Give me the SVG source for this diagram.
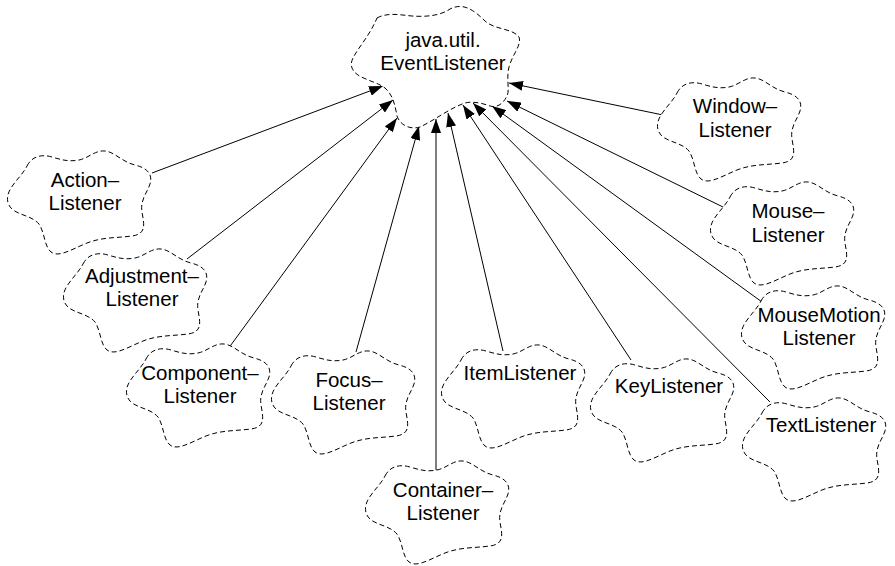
<svg xmlns="http://www.w3.org/2000/svg" width="895" height="566" viewBox="0 0 895 566">
<style>
.cloud{fill:#fff;stroke:#000;stroke-width:1;stroke-dasharray:5,3}
.lbl{font-family:"Liberation Sans",Arial,sans-serif;font-size:20.5px;fill:#000;text-anchor:middle}
.edge{stroke:#000;stroke-width:1;fill:none;marker-end:url(#arr)}
</style>
<defs>
<marker id="arr" viewBox="0 0 14 10" refX="14" refY="5" markerWidth="14" markerHeight="10" orient="auto" markerUnits="userSpaceOnUse"><path d="M0,0 L14,5 L0,10 Z" fill="#000"/></marker>
<path id="cloud" class="cloud" d="M 20,18 C 25,8 35,6 45,9 C 55,12 62,14 72,12 C 82,10 88,2 98,3 C 108,4 115,14 128,17 C 140,20 146,26 143,36 C 140,45 133,52 135,64 C 137,76 140,86 125,88 C 110,90 95,89 80,95 C 65,101 52,110 44,104 C 37,98 38,85 32,76 C 25,68 15,68 6,62 C -1,56 -1,48 4,40 C 9,32 16,26 20,18 Z"/>
</defs>
<rect width="895" height="566" fill="#fff"/>
<g id="connectors">
<line class="edge" x1="152" y1="173" x2="383" y2="86"/>
<line class="edge" x1="187" y1="259" x2="393" y2="100"/>
<line class="edge" x1="228" y1="349" x2="397" y2="118"/>
<line class="edge" x1="356" y1="352" x2="419" y2="126"/>
<line class="edge" x1="436" y1="470" x2="436" y2="119"/>
<line class="edge" x1="503" y1="351" x2="448" y2="113"/>
<line class="edge" x1="631" y1="360" x2="463" y2="105"/>
<line class="edge" x1="770" y1="402" x2="473" y2="103"/>
<line class="edge" x1="762" y1="302" x2="492" y2="106"/>
<line class="edge" x1="725" y1="208" x2="507" y2="101"/>
<line class="edge" x1="663" y1="115" x2="509" y2="83"/>
</g>
<g id="eventlistener">
<path class="cloud" d="M 377,18 C 388,12 400,15 412,16 C 425,17 440,16 450,9 C 462,3 472,8 485,21 C 495,30 512,28 519,37 C 522,45 512,55 509,67 C 506,78 510,90 507,96 C 503,104 497,108 490,106 C 482,103 472,101 465,103 C 450,108 435,120 420,127 C 410,130 400,125 397,116 C 395,105 393,95 385,88 C 378,83 372,82 366,79 C 355,75 348,68 353,58 C 358,48 370,35 377,18 Z"/>
<text class="lbl" x="443" y="47">java.util.</text>
<text class="lbl" x="443" y="70">EventListener</text>
</g>
<g id="action">
<use href="#cloud" transform="translate(7,148)"/>
<text class="lbl" x="85" y="187">Action–</text>
<text class="lbl" x="85" y="210">Listener</text>
</g>
<g id="adjustment">
<use href="#cloud" transform="translate(63,246)"/>
<text class="lbl" x="142" y="283">Adjustment–</text>
<text class="lbl" x="142" y="306">Listener</text>
</g>
<g id="component">
<use href="#cloud" transform="translate(126,341)"/>
<text class="lbl" x="200" y="380">Component–</text>
<text class="lbl" x="200" y="403">Listener</text>
</g>
<g id="focus">
<use href="#cloud" transform="translate(271,348)"/>
<text class="lbl" x="349" y="387">Focus–</text>
<text class="lbl" x="349" y="410">Listener</text>
</g>
<g id="container">
<use href="#cloud" transform="translate(365,458)"/>
<text class="lbl" x="443" y="497">Container–</text>
<text class="lbl" x="443" y="520">Listener</text>
</g>
<g id="item">
<use href="#cloud" transform="translate(441,342)"/>
<text class="lbl" x="520" y="380">ItemListener</text>
</g>
<g id="key">
<use href="#cloud" transform="translate(590,356)"/>
<text class="lbl" x="669" y="393">KeyListener</text>
</g>
<g id="text">
<use href="#cloud" transform="translate(742,395)"/>
<text class="lbl" x="821" y="432">TextListener</text>
</g>
<g id="mousemotion">
<use href="#cloud" transform="translate(741,283)"/>
<text class="lbl" x="819" y="322">MouseMotion</text>
<text class="lbl" x="819" y="345">Listener</text>
</g>
<g id="mouse">
<use href="#cloud" transform="translate(710,179)"/>
<text class="lbl" x="788" y="218">Mouse–</text>
<text class="lbl" x="788" y="242">Listener</text>
</g>
<g id="window">
<use href="#cloud" transform="translate(657,75)"/>
<text class="lbl" x="735" y="113">Window–</text>
<text class="lbl" x="735" y="137">Listener</text>
</g>
</svg>
